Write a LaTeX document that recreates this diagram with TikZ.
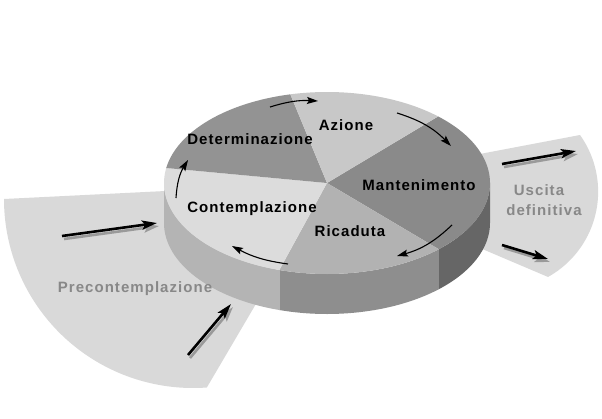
\documentclass[tikz,border=0pt]{standalone}
\usepackage{fontspec}
\setmainfont{Liberation Sans}
\newfontfamily\lab[LetterSpace=7]{Liberation Sans}
\usetikzlibrary{arrows.meta,calc}
\definecolor{bgsec}{HTML}{D9D9D9}
\definecolor{topC}{HTML}{DCDCDC}
\definecolor{topD}{HTML}{939393}
\definecolor{topA}{HTML}{C8C8C8}
\definecolor{topM}{HTML}{8A8A8A}
\definecolor{topR}{HTML}{B2B2B2}
\definecolor{sideC}{HTML}{B4B4B4}
\definecolor{sideR}{HTML}{8E8E8E}
\definecolor{sideM}{HTML}{666666}
\definecolor{gtext}{HTML}{888888}
\definecolor{shadowc}{HTML}{9A9A9A}
\newcommand\pieslice[3]{%
  \fill[#3] (0,0) -- ({163*cos(#1)},{91*sin(#1)})
    arc[start angle=#1,end angle=#2,x radius=163,y radius=91] -- cycle;}
\newcommand\pieside[3]{%
  \fill[#3] ({163*cos(#1)},{91*sin(#1)})
    arc[start angle=#1,end angle=#2,x radius=163,y radius=91] -- ++(0,40)
    arc[start angle=#2,end angle=#1,x radius=163,y radius=91] -- cycle;}
\tikzset{
  lbl/.style={font=\lab\bfseries\fontsize{15}{18}\selectfont, inner sep=0pt, anchor=base, text=black},
  glbl/.style={lbl, text=gtext},
  cyc/.style={line width=1.1pt, -{Stealth[length=11pt,width=7pt,inset=2pt]}},
  bigarrow/.style={line width=2.6pt, -{Stealth[length=15pt,width=9pt,inset=3pt]}},
  bigshadow/.style={bigarrow, draw=shadowc}
}
\begin{document}
\begin{tikzpicture}[x=1pt,y=-1pt]
\useasboundingbox (0,0) rectangle (602,418);
\fill[white] (0,0) rectangle (602,418);
% background sectors
\coordinate (pc) at (327,183);
\fill[bgsec] (pc) -- (4,199) arc[start angle=180,end angle=85.8,radius=189] -- cycle;
\fill[bgsec] (pc) -- (580,135) arc[start angle=-35.5,end angle=60.9,radius=97.6] -- cycle;
% thick arrows
\coordinate (p1s) at (62,236);  \coordinate (p1e) at (157,223);
\coordinate (p2s) at (188,355); \coordinate (p2e) at (231,304);
\coordinate (u1s) at (502,164); \coordinate (u1e) at (576,151);
\coordinate (u2s) at (502,245); \coordinate (u2e) at (548,259);
\foreach \s/\e in {p1s/p1e,p2s/p2e,u1s/u1e,u2s/u2e}{
  \draw[bigshadow] ([shift={(2,3)}]\s) -- ([shift={(2,3)}]\e);
  \draw[bigarrow] (\s) -- (\e);
}
% pie
\begin{scope}[shift={(327,183)}]
  \pieside{0}{46.7}{sideM}
  \pieside{46.7}{107}{sideR}
  \pieside{107}{180}{sideC}
  \pieslice{-47}{46.7}{topM}
  \pieslice{46.7}{107}{topR}
  \pieslice{107}{189.5}{topC}
  \pieslice{189.5}{257}{topD}
  \pieslice{257}{313}{topA}
\end{scope}
% cycle arrows
\coordinate (c1s) at (270,107); \coordinate (c1e) at (318,101);
\coordinate (c2s) at (397,113); \coordinate (c2e) at (451,146);
\coordinate (c3s) at (452,225); \coordinate (c3e) at (397,256);
\coordinate (c4s) at (288,264); \coordinate (c4e) at (232,246);
\coordinate (c5s) at (176,198); \coordinate (c5e) at (188,160);
\draw[cyc] (c1s) to[bend left=10] (c1e);
\draw[cyc] (c2s) to[bend left=14] (c2e);
\draw[cyc] (c3s) to[bend left=14] (c3e);
\draw[cyc] (c4s) to[bend left=10] (c4e);
\draw[cyc] (c5s) to[bend left=14] (c5e);
% labels
\node[lbl] (azione) at (346,130) {Azione};
\node[lbl] (determ) at (250,144) {Determinazione};
\node[lbl] (manten) at (419,190) {Mantenimento};
\node[lbl] (contem) at (252,212) {Contemplazione};
\node[lbl] (ricad) at (350,236) {Ricaduta};
\node[glbl] (precon) at (135,292) {Precontemplazione};
\node[glbl] (uscita) at (539,195) {Uscita};
\node[glbl] (defin) at (544,215) {definitiva};
\end{tikzpicture}
\end{document}
